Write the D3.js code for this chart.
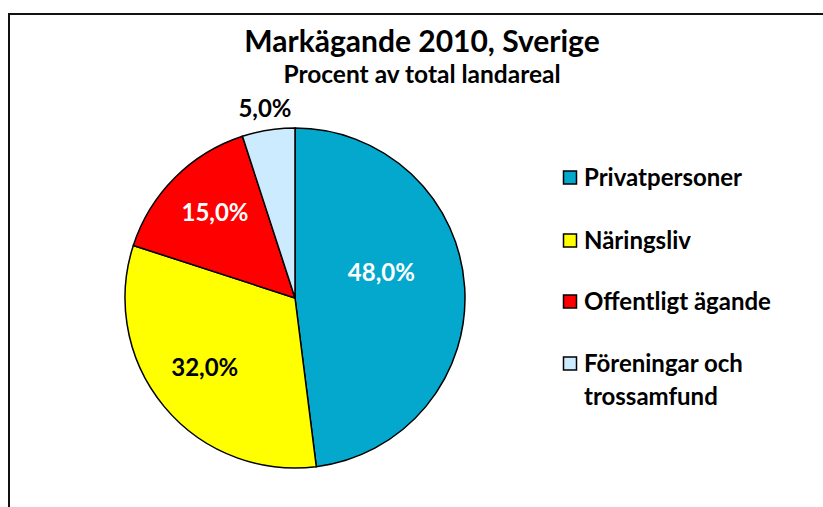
<!DOCTYPE html>
<html>
<head>
<meta charset="utf-8">
<script src="https://cdn.jsdelivr.net/npm/d3@7"></script>
<style>
  body { margin: 0; background: #fff; }
  text { font-family: Lato, "Open Sans", sans-serif; font-weight: bold; }
</style>
</head>
<body>
<div id="chart"></div>
<script>
var svgWidth = 823;
var svgHeight = 507;

// data
var categories = ["Privatpersoner", "Näringsliv", "Offentligt ägande", "Föreningar och trossamfund"];
var shares = [48.0, 32.0, 15.0, 5.0];
var sliceColors = ["#03A8CC", "#FFFF00", "#FF0000", "#CCEBFF"];
var labelColors = ["#ffffff", "#000000", "#ffffff", "#000000"];

var svg = d3.select("#chart")
  .append("svg")
  .attr("width", svgWidth)
  .attr("height", svgHeight);

// chart frame (runs off the picture on the right and bottom)
svg.append("rect")
  .attr("x", 9)
  .attr("y", 14)
  .attr("width", 840)
  .attr("height", 520)
  .attr("fill", "#fff")
  .attr("stroke", "#111")
  .attr("stroke-width", 2);

svg.append("text")
  .attr("x", 422)
  .attr("y", 52)
  .attr("text-anchor", "middle")
  .style("font-size", "30px")
  .text("Markägande 2010, Sverige");

svg.append("text")
  .attr("x", 422)
  .attr("y", 83)
  .attr("text-anchor", "middle")
  .style("font-size", "24.5px")
  .text("Procent av total landareal");

var cx = 295, cy = 298, radius = 170;

var pie = d3.pie().sort(null).value(d => d);
var arcs = pie(shares);
var arc = d3.arc().innerRadius(0).outerRadius(radius);

var pieGroup = svg.append("g")
  .attr("transform", `translate(${cx}, ${cy})`);

pieGroup.selectAll("path")
  .data(arcs)
  .enter()
  .append("path")
  .attr("d", arc)
  .attr("fill", (d, i) => sliceColors[i])
  .attr("stroke", "#000")
  .attr("stroke-width", 1.5);

// label placement, as fraction of radius and a small angle nudge (degrees)
var labelRadius = [0.53, 0.67, 0.69, 1.13];
var labelNudge = [-13, 2, 2, 0];

pieGroup.selectAll("text.val")
  .data(arcs)
  .enter()
  .append("text")
  .attr("class", "val")
  .attr("transform", (d, i) => {
    var a = (d.startAngle + d.endAngle) / 2 + labelNudge[i] * Math.PI / 180;
    var r = radius * labelRadius[i];
    return `translate(${r * Math.sin(a)}, ${-r * Math.cos(a)})`;
  })
  .attr("text-anchor", "middle")
  .attr("dy", "0.35em")
  .attr("fill", (d, i) => labelColors[i])
  .style("font-size", "24px")
  .text(d => d.data.toFixed(1).replace(".", ",") + "%");

// legend
var legendY = [178, 241, 302, 364];
var legend = svg.append("g");

var items = legend.selectAll("g")
  .data(categories)
  .enter()
  .append("g")
  .attr("transform", (d, i) => `translate(563, ${legendY[i]})`);

items.append("rect")
  .attr("x", 0.5)
  .attr("y", -7)
  .attr("width", 13)
  .attr("height", 13)
  .attr("fill", (d, i) => sliceColors[i])
  .attr("stroke", "#000")
  .attr("stroke-width", 1.5);

items.each(function(d, i) {
  var t = d3.select(this).append("text")
    .attr("x", 21)
    .attr("y", 0)
    .attr("dy", "0.35em")
    .style("font-size", "24px");
  if (i === 3) {
    t.append("tspan").attr("x", 21).text("Föreningar och");
    t.append("tspan").attr("x", 21).attr("dy", "1.35em").text("trossamfund");
  } else {
    t.text(d);
  }
});
</script>
</body>
</html>
